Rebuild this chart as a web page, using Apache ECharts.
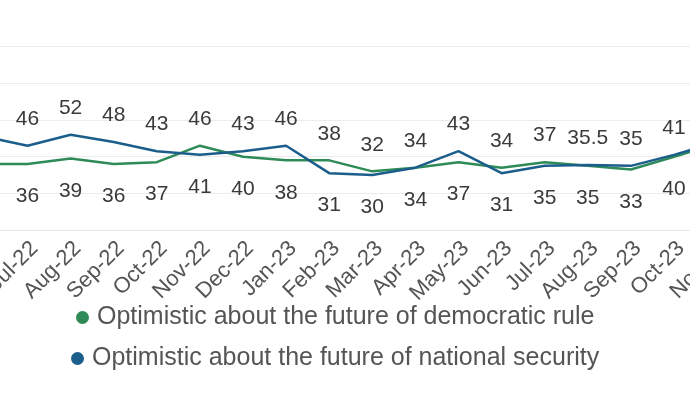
<!DOCTYPE html>
<html>
<head>
<meta charset="utf-8">
<script src="https://cdn.jsdelivr.net/npm/echarts@6/dist/echarts.min.js"></script>
<style>
html,body{margin:0;padding:0;background:#fff;}
#wrap{position:relative;width:690px;height:407px;overflow:hidden;}
#chart{position:absolute;left:-100px;top:0;width:890px;height:407px;}
</style>
</head>
<body>
<div id="wrap"><div id="chart"></div></div>
<script>
const categories = ['Jun-22','Jul-22','Aug-22','Sep-22','Oct-22','Nov-22','Dec-22','Jan-23','Feb-23','Mar-23','Apr-23','May-23','Jun-23','Jul-23','Aug-23','Sep-23','Oct-23','Nov-23'];
const democraticRule = [36, 36, 39, 36, 37, 46, 40, 38, 38, 32, 34, 37, 34, 37, 35, 33, 40, 47];
const nationalSecurity = [51, 46, 52, 48, 43, 41, 43, 46, 31, 30, 34, 43, 31, 35, 35.5, 35, 41, 48];
const seriesNames = ['Optimistic about the future of democratic rule', 'Optimistic about the future of national security'];
const yTicks = [0, 20, 40, 60, 80, 100];

const FONT = '"Liberation Sans", Arial, sans-serif';
const GREEN = '#2e8b57';
const BLUE = '#1b5e8c';
const OFFSET = 100; // chart canvas is shifted left by this many px inside the 690px window

function withLabels(own, other, preferTop) {
  return own.map(function (v, i) {
    let top;
    if (v > other[i]) top = true;
    else if (v < other[i]) top = false;
    else top = preferTop;
    return { value: v, label: { position: top ? 'top' : 'bottom', distance: top ? 16 : 22 } };
  });
}

const chart = echarts.init(document.getElementById('chart'), null, { renderer: 'canvas' });
const labelStyle = { show: true, fontSize: 21, color: '#3a3a3a', fontFamily: FONT, formatter: function (p) { return p.value; } };
const legendText = { fontSize: 25, color: '#555', fontFamily: FONT, padding: [0, 0, 0, 3] };
chart.setOption({
  animation: false,
  backgroundColor: '#fff',
  textStyle: { fontFamily: FONT },
  grid: { left: OFFSET - 15.6, right: 890 - OFFSET - 717.1, top: 46.7, bottom: 177, containLabel: false },
  xAxis: {
    type: 'category',
    data: categories,
    boundaryGap: false,
    axisLine: { show: true, lineStyle: { color: '#e6e6e6', width: 1 } },
    axisTick: { show: false },
    axisLabel: { interval: 0, rotate: 45, fontSize: 22, lineHeight: 20, color: '#555', fontFamily: FONT, margin: 8, verticalAlign: 'top' }
  },
  yAxis: {
    type: 'value',
    min: yTicks[0],
    max: yTicks[yTicks.length - 1],
    interval: yTicks[1] - yTicks[0],
    axisLabel: { show: false },
    axisLine: { show: false },
    axisTick: { show: false },
    splitLine: { lineStyle: { color: '#ececec', width: 1 } }
  },
  legend: [
    { data: [seriesNames[0]], orient: 'horizontal', left: OFFSET + 76, top: 305, padding: 0, icon: 'circle', itemWidth: 13, itemHeight: 13, textStyle: legendText },
    { data: [seriesNames[1]], orient: 'horizontal', left: OFFSET + 71, top: 346, padding: 0, icon: 'circle', itemWidth: 13, itemHeight: 13, textStyle: legendText }
  ],
  series: [
    { name: seriesNames[0], type: 'line', data: withLabels(democraticRule, nationalSecurity, false),
      color: GREEN, lineStyle: { color: GREEN, width: 2.5 }, symbol: 'circle', symbolSize: 0, showSymbol: true,
      label: labelStyle, z: 2 },
    { name: seriesNames[1], type: 'line', data: withLabels(nationalSecurity, democraticRule, true),
      color: BLUE, lineStyle: { color: BLUE, width: 2.5 }, symbol: 'circle', symbolSize: 0, showSymbol: true,
      label: labelStyle, z: 3 }
  ]
});
</script>
</body>
</html>
